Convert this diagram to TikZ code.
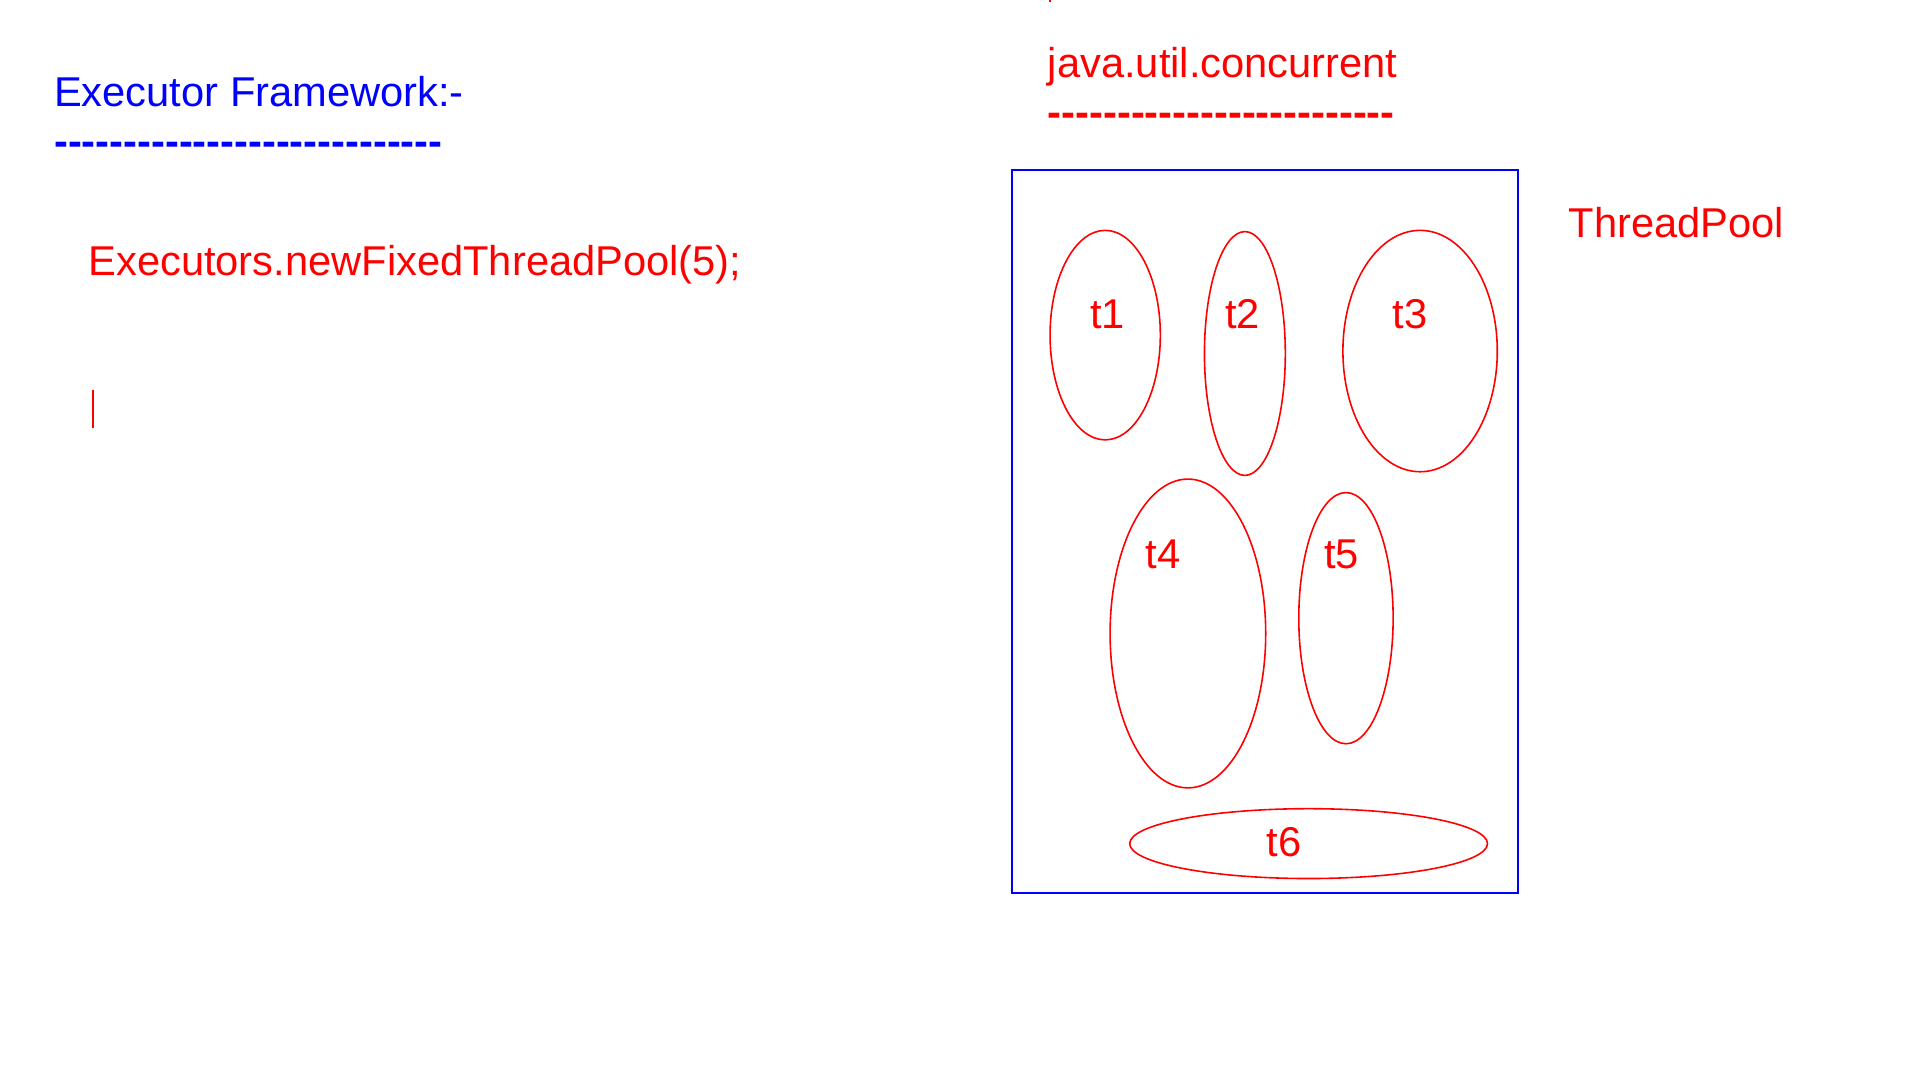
\documentclass[tikz,border=0pt]{standalone}
\usepackage{fontspec}
\setmainfont{Liberation Sans}
\usetikzlibrary{shapes.geometric}
\definecolor{pblue}{RGB}{0,0,255}
\definecolor{pred}{RGB}{255,0,0}
\newcommand{\hy}{-\kern0pt}
\newcommand{\hyten}{\hy\hy\hy\hy\hy\hy\hy\hy\hy\hy}
\begin{document}
\begin{tikzpicture}[x=1pt,y=-1pt,
  txt/.style={font=\fontsize{34}{40}\selectfont, inner sep=0pt, anchor=base west},
  dashrow/.style={font=\fontsize{34}{40}\selectfont\bfseries, inner sep=0pt, anchor=base west},
  ctxt/.style={font=\fontsize{34}{40}\selectfont, inner sep=0pt, anchor=base, text=pred},
  thread/.style={ellipse, draw=pred, line width=1.3pt, inner sep=0pt},
  pool/.style={draw=pblue, line width=1.5pt}]
\useasboundingbox (0,0) rectangle (1567,881.4);
% left side
\node[txt, text=pblue] (title) at (44,87) {Executor Framework:-};
\node[dashrow, text=pblue] (tline) at (44,127) {\hyten\hyten\hy\hy\hy\hy\hy\hy\hy\hy};
\node[txt, text=pred] (code) at (72,225) {Executors.newFixedThreadPool(5);};
\coordinate (curA) at (76,318);
\coordinate (curB) at (76,349);
\draw[pred, line width=2pt] (curA) -- (curB);
% right side
\coordinate (tickA) at (857,0);
\coordinate (tickB) at (857,2);
\draw[pred, line width=1pt] (tickA) -- (tickB);
\node[txt, text=pred] (pkg) at (855,63) {java.util.concurrent};
\node[dashrow, text=pred] (pline) at (855,103) {\hyten\hyten\hy\hy\hy\hy\hy};
\node[txt, text=pred] (tp) at (1280,194) {ThreadPool};
\node[pool, minimum width=413, minimum height=590, inner sep=0pt] (box) at (1032.5,434) {};
\node[thread, minimum width=90, minimum height=171] (e1) at (902,273.5) {};
\node[thread, minimum width=66, minimum height=199] (e2) at (1016,288.5) {};
\node[thread, minimum width=126, minimum height=197] (e3) at (1159,286.5) {};
\node[thread, minimum width=127, minimum height=252] (e4) at (969.5,517) {};
\node[thread, minimum width=77, minimum height=205] (e5) at (1098.5,504.5) {};
\node[thread, minimum width=292, minimum height=57] (e6) at (1068,688.5) {};
\node[ctxt] (l1) at (904,268) {t1};
\node[ctxt] (l2) at (1014,268) {t2};
\node[ctxt] (l3) at (1151,268) {t3};
\node[ctxt] (l4) at (949,464) {t4};
\node[ctxt] (l5) at (1095,464) {t5};
\node[ctxt] (l6) at (1048,699) {t6};
\end{tikzpicture}
\end{document}
